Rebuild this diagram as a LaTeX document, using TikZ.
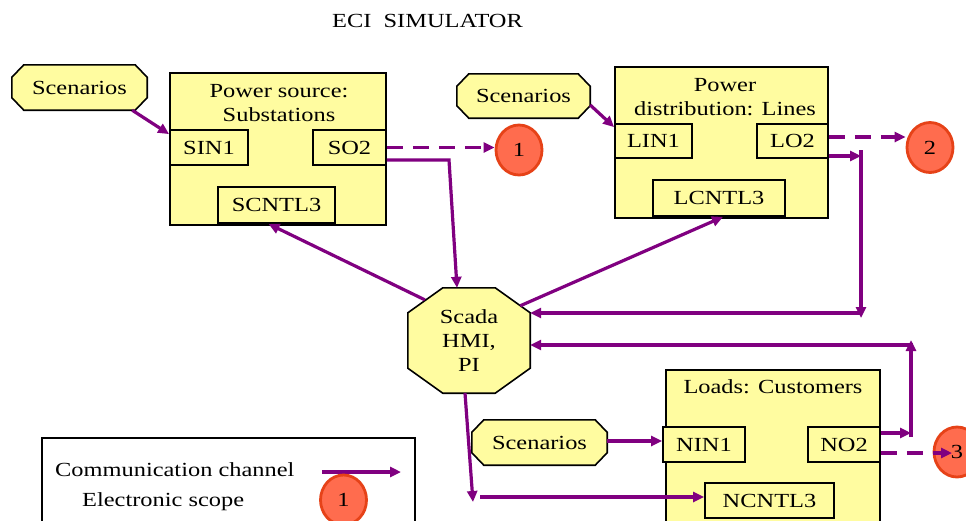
\documentclass[tikz,border=0pt]{standalone}
\usepackage{fontspec}
\setmainfont{Liberation Serif}[FakeStretch=1.22]
\usetikzlibrary{arrows.meta,shapes.geometric,backgrounds,calc}

\definecolor{boxfill}{RGB}{255,252,160}
\definecolor{chancol}{RGB}{128,0,128}
\definecolor{scopefill}{RGB}{255,108,78}
\definecolor{scopeedge}{RGB}{230,66,24}

\tikzset{
  every node/.style={font=\fontsize{20pt}{24pt}\selectfont, inner sep=0pt},
  unitbox/.style={rectangle, draw=black, line width=1.8pt, fill=boxfill},
  portbox/.style={rectangle, draw=black, line width=1.8pt, fill=boxfill, minimum height=35pt},
  octnode/.style={rectangle},
  octfill/.style={draw=black, line width=1.6pt, fill=boxfill},
  scopemark/.style={ellipse, draw=scopeedge, line width=2.8pt, fill=scopefill,
                    minimum width=46pt, minimum height=50pt},
  chanarrow/.style={draw=chancol, line width=3.2pt, -{Triangle[length=11pt,width=10pt]}},
  dashchan/.style={chanarrow, dash pattern=on 16pt off 10pt},
}

% octagonal outline around a rectangular node: name, corner cut x, corner cut y
\newcommand\chamferbox[3]{%
  \path[octfill] ([xshift=#2]#1.north west) -- ([xshift=-#2]#1.north east)
    -- ([yshift=-#3]#1.north east) -- ([yshift=#3]#1.south east)
    -- ([xshift=-#2]#1.south east) -- ([xshift=#2]#1.south west)
    -- ([yshift=#3]#1.south west) -- ([yshift=-#3]#1.north west) -- cycle;}

\begin{document}
\begin{tikzpicture}[x=1pt,y=-1pt]
\useasboundingbox (0,0) rectangle (966,520);
\clip (0,0) rectangle (966,520);

% title
\node (title) at (427.5,21) {ECI\ \ SIMULATOR};

% power source
\node[unitbox, minimum width=216pt, minimum height=152pt] (ps) at (278,149) {};
\node[align=center] (pslabel) at (279,103.5) {Power source:\\Substations};
\node[portbox, minimum width=78pt] (sin1) at (209,147.5) {SIN1};
\node[portbox, minimum width=73pt] (so2) at (349.5,147.5) {SO2};
\node[portbox, minimum width=117pt, minimum height=36pt] (scntl3) at (276.5,205) {SCNTL3};

% power distribution
\node[unitbox, minimum width=213pt, minimum height=151pt] (pd) at (721.5,142.5) {};
\node[align=center] (pdlabel) at (725,97.5) {Power\\distribution: Lines};
\node[portbox, minimum width=77pt, minimum height=34pt] (lin1) at (653.5,141) {LIN1};
\node[portbox, minimum width=71pt, minimum height=34pt] (lo2) at (792.5,141) {LO2};
\node[portbox, minimum width=132pt, minimum height=36pt] (lcntl3) at (719,198) {LCNTL3};

% loads
\node[unitbox, minimum width=214pt, minimum height=170pt] (ld) at (773,455) {};
\node (ldlabel) at (773,387) {Loads: Customers};
\node[portbox, minimum width=82pt] (nin1) at (704,444.5) {NIN1};
\node[portbox, minimum width=72pt] (no2) at (844,444.5) {NO2};
\node[portbox, minimum width=129pt] (ncntl3) at (769.5,500.5) {NCNTL3};

% scenario inputs and the SCADA station
\node[octnode, minimum width=135pt, minimum height=45pt] (scen1) at (79.5,87.5) {Scenarios};
\node[octnode, minimum width=133pt, minimum height=44pt] (scen2) at (523.5,96) {Scenarios};
\node[octnode, minimum width=135pt, minimum height=45pt] (scen3) at (539.5,442.5) {Scenarios};
\node[octnode, minimum width=122pt, minimum height=105pt, align=center] (scada) at (469,340.5) {Scada\\HMI,\\PI};

\begin{pgfonlayer}{background}
  \fill[white] (0,0) rectangle (966,520);
  \chamferbox{scen1}{12pt}{12.5pt}
  \chamferbox{scen2}{12pt}{12.5pt}
  \chamferbox{scen3}{12pt}{12.5pt}
  \chamferbox{scada}{35pt}{25pt}
\end{pgfonlayer}

% electronic scopes
\node[scopemark] (sc1) at (519,150) {1};
\node[scopemark] (sc2) at (930,147.5) {2};
\node[scopemark] (sc3) at (957,452) {3};

% routing points
\coordinate (bendS) at (449,160);
\coordinate (dropL) at (861,150);
\coordinate (turnL) at (861,318);
\coordinate (feedL) at (861,313);
\coordinate (riseN) at (911,437);
\coordinate (topN) at (911,340);
\coordinate (feedN) at (913,345);
\coordinate (dropS) at (473,502);
\coordinate (feedS) at (480,497);
\coordinate (sc3in) at ([xshift=-5pt]sc3.center);

% scenario feeds
\draw[chanarrow] ([xshift=-15pt]scen1.south east) -- ([yshift=-5pt]sin1.north west);
\draw[chanarrow] ([yshift=-9pt]scen2.east) -- ([yshift=-4pt]lin1.north west);
\draw[chanarrow] ([yshift=1.5pt]scen3.east) -- ([yshift=1.5pt]scen3.east -| nin1.west);

% substation outputs
\draw[dashchan] (so2.east) -- (so2.east -| sc1.west);
\draw[chanarrow] ([yshift=-12.5pt]so2.east) -- (bendS) -- ([xshift=-12pt]scada.north);

% line outputs
\draw[dashchan] ([yshift=4pt]lo2.east) -- ([yshift=4pt]lo2.east -| sc2.west);
\draw[chanarrow] ([yshift=-15pt]lo2.east) -- ([yshift=-15pt]lo2.east -| dropL);
\draw[chanarrow] (dropL) -- (turnL);
\draw[chanarrow] (feedL) -- (feedL -| scada.east);

% load outputs
\draw[chanarrow] ([yshift=11.5pt]no2.east) -- ([yshift=11.5pt]no2.east -| riseN);
\draw[chanarrow] (riseN) -- (topN);
\draw[chanarrow] (feedN) -- (feedN -| scada.east);
\draw[dashchan] ([yshift=-8.5pt]no2.east) -- ([yshift=-8.5pt]no2.east -| sc3in);

% control commands from SCADA
\draw[chanarrow] ([shift={(17pt,-12pt)}]scada.north west) -- ([xshift=-8pt]scntl3.south);
\draw[chanarrow] ([shift={(-10pt,-18pt)}]scada.north east) -- ([xshift=4pt]lcntl3.south);
\draw[chanarrow] ([xshift=-4pt]scada.south) -- (dropS);
\draw[chanarrow] (feedS) -- (feedS -| ncntl3.west);

% legend
\node[rectangle, draw=black, line width=2.8pt, minimum width=373pt, minimum height=110pt] (legend) at (228.5,493) {};
\node[anchor=west] (lgchan) at (55,470) {Communication channel};
\node[anchor=west] (lgscope) at (82,502) {Electronic scope};
\coordinate (lga) at (322,472);
\coordinate (lgb) at (401,472);
\draw[chanarrow] (lga) -- (lgb);
\node[scopemark] (lgsc) at (343.5,500) {1};
\end{tikzpicture}
\end{document}
